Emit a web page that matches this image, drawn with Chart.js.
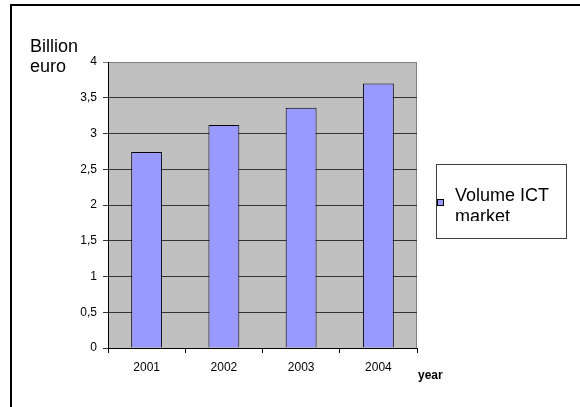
<!DOCTYPE html>
<html>
<head>
<meta charset="utf-8">
<script src="https://cdn.jsdelivr.net/npm/chart.js@4"></script>
<style>
  html, body { margin: 0; padding: 0; background: #fff; }
  #wrap { width: 580px; height: 407px; }
</style>
</head>
<body>
<div id="wrap"><canvas id="chart" width="580" height="407"></canvas></div>
<script>
// Chart data
const years = ['2001', '2002', '2003', '2004'];
const volumeIct = [2.74, 3.12, 3.36, 3.70];
const yTickLabels = ['0', '0,5', '1', '1,5', '2', '2,5', '3', '3,5', '4'];
const seriesLabel = ['Volume ICT', 'market'];
const yAxisLabel = ['Billion', 'euro'];
const xAxisLabel = 'year';

const FONT = 'Arial, "Liberation Sans", sans-serif';

// Grey plot background, frame, axis captions and the boxed legend
const decorPlugin = {
    id: 'decor',
    beforeDraw(chart) {
        const { ctx, chartArea: a } = chart;
        ctx.save();
        ctx.fillStyle = '#c0c0c0';
        ctx.fillRect(a.left, a.top, a.right - a.left, a.bottom - a.top);
        ctx.strokeStyle = '#808080';
        ctx.lineWidth = 1;
        ctx.strokeRect(a.left + 0.5, a.top + 0.5, a.right - a.left - 1, a.bottom - a.top);
        ctx.restore();
    },
    afterDraw(chart) {
        const ctx = chart.ctx;
        ctx.save();
        // outer frame (top and left only visible)
        ctx.strokeStyle = '#000';
        ctx.lineWidth = 2;
        ctx.beginPath();
        ctx.moveTo(11, 407);
        ctx.lineTo(11, 5);
        ctx.lineTo(580, 5);
        ctx.stroke();

        // y axis caption
        ctx.fillStyle = '#000';
        ctx.font = '18px ' + FONT;
        ctx.textBaseline = 'alphabetic';
        ctx.textAlign = 'left';
        ctx.fillText(yAxisLabel[0], 30, 52);
        ctx.fillText(yAxisLabel[1], 30, 72);

        // x axis caption
        ctx.font = 'bold 12px ' + FONT;
        ctx.fillText(xAxisLabel, 418, 379);

        // legend box
        ctx.strokeStyle = '#404040';
        ctx.lineWidth = 1;
        ctx.strokeRect(436.5, 164.5, 130, 74);
        const ds = chart.data.datasets[0];
        ctx.fillStyle = ds.backgroundColor;
        ctx.fillRect(437.5, 199.5, 6, 6);
        ctx.strokeStyle = '#000';
        ctx.strokeRect(437.5, 199.5, 6, 6);
        ctx.fillStyle = '#000';
        ctx.font = '18px ' + FONT;
        ctx.fillText(seriesLabel[0], 455, 201);
        ctx.save();
        ctx.beginPath();
        ctx.rect(450, 205, 110, 16);
        ctx.clip();
        ctx.fillText(seriesLabel[1], 455, 222);
        ctx.restore();
        ctx.restore();
    }
};

new Chart(document.getElementById('chart'), {
    type: 'bar',
    data: {
        labels: years,
        datasets: [{
            label: seriesLabel.join(' '),
            data: volumeIct,
            backgroundColor: '#9999ff',
            borderColor: '#000',
            borderWidth: 1,
            barPercentage: 0.4,
            categoryPercentage: 1
        }]
    },
    options: {
        responsive: false,
        animation: false,
        layout: { padding: { left: 0, top: 62, right: 163, bottom: 0 } },
        plugins: {
            legend: { display: false },
            tooltip: { enabled: false }
        },
        scales: {
            x: {
                grid: {
                    offset: true,
                    drawOnChartArea: false,
                    tickLength: 5,
                    color: '#000'
                },
                border: { color: '#000', width: 1 },
                ticks: {
                    color: '#000',
                    font: { family: FONT, size: 12 },
                    padding: 7,
                    maxRotation: 0
                },
                afterFit(scale) { scale.height = 59; }
            },
            y: {
                min: 0,
                max: 4,
                ticks: {
                    stepSize: 0.5,
                    color: '#000',
                    font: { family: FONT, size: 12 },
                    padding: 6,
                    callback: (v, i) => yTickLabels[i]
                },
                grid: {
                    tickLength: 5,
                    color: ctx => ctx.tick && ctx.tick.value === 4 ? '#808080' : '#333'
                },
                border: { color: '#000', width: 1 },
                afterFit(scale) { scale.width = 108; }
            }
        }
    },
    plugins: [decorPlugin]
});
</script>
</body>
</html>
